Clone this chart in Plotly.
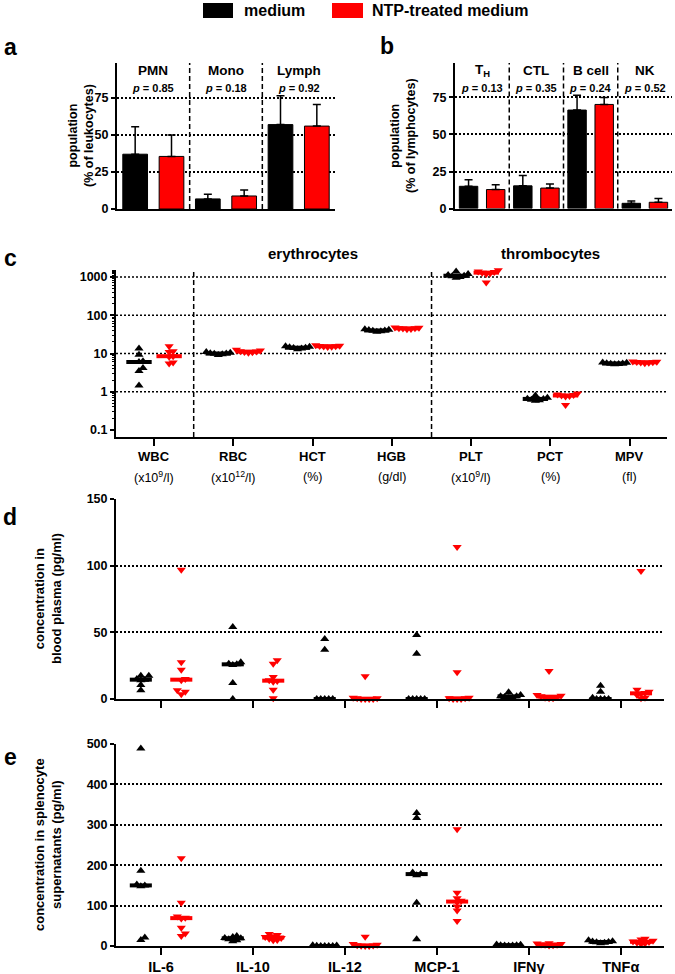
import numpy as np
import plotly.graph_objects as go

W, H = 675, 974
FONT = "Liberation Sans, Arial, Helvetica, sans-serif"
RED = "#ff0000"

# ---------------- data ----------------
groups_a = ["PMN", "Mono", "Lymph"]
p_a = ["0.85", "0.18", "0.92"]
medium_a_mean = [37.0, 6.8, 57.0]
medium_a_sd = [18.5, 3.2, 19.5]
ntp_a_mean = [35.5, 8.8, 56.0]
ntp_a_sd = [14.5, 4.0, 14.5]

groups_b = ["T<sub>H</sub>", "CTL", "B cell", "NK"]
p_b = ["0.13", "0.35", "0.24", "0.52"]
medium_b_mean = [15.0, 15.3, 66.5, 3.5]
medium_b_sd = [4.5, 7.0, 10.0, 1.6]
ntp_b_mean = [12.8, 13.8, 70.3, 4.2]
ntp_b_sd = [3.2, 2.8, 4.7, 2.6]

cats_c = ["WBC", "RBC", "HCT", "HGB", "PLT", "PCT", "MPV"]
units_c = ["(x10<sup>9</sup>/l)", "(x10<sup>12</sup>/l)", "(%)", "(g/dl)",
           "(x10<sup>9</sup>/l)", "(%)", "(fl)"]
medium_c = [
    [9.3, 13.5, 4.2, 3.5, 1.45, 6.3, 6.0],
    [9.5, 10.0, 10.2, 10.5, 9.8, 11.0, 9.2],
    [13.5, 14.0, 14.5, 15.0, 13.0, 14.2, 15.5],
    [38.0, 40.0, 41.0, 43.0, 37.0, 39.5, 42.0],
    [1000, 1080, 1130, 1200, 1400, 1050, 950],
    [0.60, 0.62, 0.65, 0.70, 0.80, 0.58, 0.66],
    [5.3, 5.5, 5.6, 5.8, 5.4, 5.7, 5.2],
]
ntp_c = [
    [15.5, 11.5, 11.0, 8.5, 8.2, 5.8, 5.5],
    [11.0, 12.0, 11.5, 10.8, 11.2, 10.5, 12.5],
    [15.0, 15.5, 16.0, 15.8, 15.2, 16.5, 14.8],
    [44.0, 45.0, 46.0, 47.0, 43.0, 45.5, 48.0],
    [1500, 1400, 1300, 1250, 1200, 1350, 720],
    [0.85, 0.90, 0.80, 0.78, 0.75, 0.82, 0.45],
    [5.7, 5.9, 6.0, 6.2, 5.6, 5.8, 6.1],
]
groups_c_titles = ["erythrocytes", "thrombocytes"]

cytokines = ["IL-6", "IL-10", "IL-12", "MCP-1", "IFNγ", "TNFα"]
medium_d = [
    [17.5, 17.5, 14.0, 14.5, 10.5, 6.5, 15.0],
    [54.0, 27.5, 26.5, 26.0, 25.5, 12.0, 0.0],
    [45.0, 37.0, 0.0, 0.0, 0.0, 0.0, 0.0],
    [48.0, 34.0, 0.0, 0.0, 0.0, 0.0, 0.0],
    [5.0, 3.0, 2.0, 2.0, 1.5, 1.0, 0.5],
    [10.0, 5.5, 1.0, 0.0, 0.0, 0.0, 0.0],
]
ntp_d = [
    [97.0, 27.5, 22.0, 15.0, 14.0, 6.5, 3.5, 5.5],
    [29.0, 26.5, 16.5, 14.0, 13.5, 13.0, 7.0, 0.5],
    [17.0, 1.0, 0.5, 0.5, 0.0, 0.0, 0.0, 0.0],
    [114.0, 20.0, 1.0, 0.5, 0.5, 0.0, 0.0, 0.0],
    [21.0, 3.0, 2.5, 2.0, 1.5, 1.0, 0.5, 0.5],
    [96.0, 7.0, 5.5, 4.5, 4.0, 3.0, 1.0, 0.5],
]
medium_e = [
    [489, 186, 152, 150, 148, 21, 15],
    [25, 22, 20, 19, 17, 14, 12],
    [2, 1, 0.5, 0, 0, 0, 0],
    [329, 317, 182, 178, 175, 107, 17],
    [4, 3, 2, 2, 1, 1, 0.5],
    [14, 12, 11, 10, 9, 8, 7],
]
ntp_e = [
    [217, 107, 73, 70, 68, 45, 31, 25],
    [30, 27, 24, 22, 20, 18, 15, 14],
    [23, 5, 3, 2, 1, 0.5, 0, 0],
    [289, 132, 118, 112, 108, 98, 88, 62],
    [7, 6, 5, 4, 3, 3, 2, 1],
    [18, 16, 13, 11, 10, 8, 6, 5],
]


def fx(px):
    return px / W


def fy(py):
    return 1 - py / H


fig = go.Figure()

# ---------------- bar panels ----------------
def bar_panel(means_m, sd_m, means_n, sd_n, xa, ya):
    n = len(means_m)
    for means, sds, color, sign in [(means_m, sd_m, "black", -1), (means_n, sd_n, RED, 1)]:
        fig.add_trace(go.Bar(
            x=[i + sign * 0.25 for i in range(n)], y=means, width=0.34,
            marker=dict(color=color, line=dict(color="black", width=1)),
            error_y=dict(type="data", array=sds, arrayminus=[0] * n, symmetric=False,
                         color="black", thickness=1.5, width=4),
            xaxis=xa, yaxis=ya, showlegend=False, hoverinfo="skip"))


bar_panel(medium_a_mean, medium_a_sd, ntp_a_mean, ntp_a_sd, "x", "y")
bar_panel(medium_b_mean, medium_b_sd, ntp_b_mean, ntp_b_sd, "x2", "y2")


# ---------------- dot panels ----------------
def swarm(vals, to_px, cat_px, step=4.0):
    order = np.argsort(vals, kind="stable")
    placed = []
    offs = np.zeros(len(vals))
    for i in order:
        y = to_px(vals[i])
        chosen, best_k, best_d = None, 0, -1.0
        for k in [0, 1, -1, 2, -2, 3, -3]:
            x = k * step
            d = min([np.hypot(x - px, y - py) for px, py in placed], default=1e9)
            if d >= step:
                chosen = k
                break
            if d > best_d:
                best_d, best_k = d, k
        if chosen is None:
            chosen = best_k
        placed.append((chosen * step, y))
        offs[i] = chosen * step / cat_px
    return offs


def dot_panel(med_lists, ntp_lists, xa, ya, to_px, cat_px, center, hw):
    for lists, color, symbol, sign in [(med_lists, "black", "triangle-up", -1),
                                       (ntp_lists, RED, "triangle-down", 1)]:
        xs, ys, lx, ly = [], [], [], []
        for i, vals in enumerate(lists):
            offs = swarm(vals, to_px, cat_px)
            c = i + sign * center
            xs += list(c + offs)
            ys += list(vals)
            m = float(np.median(vals))
            lx += [c - hw, c + hw, None]
            ly += [m, m, None]
        fig.add_trace(go.Scatter(x=xs, y=ys, mode="markers", xaxis=xa, yaxis=ya,
                                 marker=dict(symbol=symbol, size=8, color=color, line=dict(width=0)),
                                 cliponaxis=False, showlegend=False, hoverinfo="skip"))
        fig.add_trace(go.Scatter(x=lx, y=ly, mode="lines", xaxis=xa, yaxis=ya,
                                 line=dict(color=color, width=4), cliponaxis=False,
                                 showlegend=False, hoverinfo="skip"))


dot_panel(medium_c, ntp_c, "x3", "y3", lambda v: 38.25 * np.log10(v), 79.3, 0.19, 0.16)
dot_panel(medium_d, ntp_d, "x4", "y4", lambda v: v * 1.333, 92.0, 0.22, 0.12)
dot_panel(medium_e, ntp_e, "x5", "y5", lambda v: v * 0.404, 92.0, 0.22, 0.12)

# ---------------- axes ----------------
tickfont = dict(family=FONT, size=12.5, color="black", weight="bold")
DOT = "2px,2px"


def xax(d0, d1, rng, anchor, ticks=False, tickvals=None, ticktext=None):
    return dict(domain=[fx(d0), fx(d1)], range=rng, anchor=anchor, showline=True,
                linecolor="black", linewidth=2, showgrid=False, zeroline=False,
                ticks="outside" if ticks else "", ticklen=7, tickwidth=2, tickcolor="black",
                tickvals=tickvals, ticktext=ticktext, automargin=False,
                showticklabels=ticktext is not None, tickfont=tickfont, fixedrange=True)


def yax(p_bottom, p_top, rng, anchor, tickvals, grid=True, **kw):
    d = dict(domain=[fy(p_bottom), fy(p_top)], range=rng, anchor=anchor, showline=True,
             linecolor="black", linewidth=2, zeroline=False, ticks="outside", ticklen=4,
             tickwidth=2, tickcolor="black", tickvals=tickvals, tickfont=tickfont,
             automargin=False,
             showgrid=grid, gridcolor="black", gridwidth=1.5, griddash=DOT, fixedrange=True)
    d.update(kw)
    return d


minor_c = [k * 10.0 ** e for e in range(-1, 3) for k in range(2, 10)] + [1100, 1200, 1300, 1400, 1500]

fig.update_layout(
    width=W, height=H, margin=dict(l=0, r=0, t=0, b=0, autoexpand=False),
    paper_bgcolor="white", plot_bgcolor="white", barmode="overlay",
    font=dict(family=FONT, color="black"),
    xaxis=xax(117, 335, [-0.5, 2.5], "y"),
    yaxis=yax(209, 63, [0, 98.6], "x", [0, 25, 50, 75]),
    xaxis2=xax(455, 672, [-0.5, 3.5], "y2"),
    yaxis2=yax(208.5, 63, [0, 98.3], "x2", [0, 25, 50, 75]),
    xaxis3=xax(116, 667, [-0.48, 6.47], "y3", ticks=True, tickvals=list(range(7))),
    yaxis3=yax(437, 270, [-1.183, 3.183], "x3", [0.1, 1, 10, 100, 1000], grid=False,
               type="log", ticktext=["0.1", "1", "10", "100", "1000"],
               minor=dict(tickvals=minor_c, ticks="outside", ticklen=2.5, tickwidth=1,
                          tickcolor="black", showgrid=False)),
    xaxis4=xax(116, 664, [-0.49, 5.47], "y4", ticks=True, tickvals=list(range(6))),
    yaxis4=yax(699, 499, [0, 150], "x4", [0, 50, 100, 150]),
    xaxis5=xax(116, 664, [-0.49, 5.47], "y5", ticks=True, tickvals=list(range(6)),
               ticktext=cytokines),
    yaxis5=yax(946, 744, [0, 500], "x5", [0, 100, 200, 300, 400, 500]),
)
fig.layout.xaxis5.tickfont = dict(family=FONT, size=14.5, color="black", weight="bold")
fig.layout.xaxis5.ticklabelstandoff = 0

# ---------------- shapes ----------------
shapes = []
# legend swatches
shapes.append(dict(type="rect", xref="paper", yref="paper", x0=fx(203), x1=fx(233),
                   y0=fy(18), y1=fy(3), fillcolor="black", line=dict(width=0)))
shapes.append(dict(type="rect", xref="paper", yref="paper", x0=fx(332), x1=fx(363),
                   y0=fy(18), y1=fy(3), fillcolor=RED, line=dict(width=0)))
DASH = "5px,3px"
for xa, xs in [("x", [0.5, 1.5]), ("x2", [0.5, 1.5, 2.5]), ("x3", [0.5, 3.5])]:
    ya = xa.replace("x", "y")
    for xv in xs:
        shapes.append(dict(type="line", xref=xa, yref=ya + " domain", x0=xv, x1=xv, y0=0, y1=1,
                           line=dict(color="black", width=1.5, dash=DASH), layer="above"))
# panel c gridlines (no gridline at 0.1)
for v in [1, 10, 100, 1000]:
    shapes.append(dict(type="line", xref="x3 domain", yref="y3", x0=0, x1=1, y0=v, y1=v,
                       line=dict(color="black", width=1.5, dash=DOT), layer="below"))
fig.update_layout(shapes=shapes)

# ---------------- annotations ----------------
ann = []


def text(x, y, s, size, xref="paper", yref="paper", xanchor="center", angle=0, bold=True):
    ann.append(dict(x=x, y=y, xref=xref, yref=yref, text=s, showarrow=False,
                    xanchor=xanchor, yanchor="middle", textangle=angle,
                    font=dict(family=FONT, size=size, color="black",
                              weight="bold" if bold else "normal")))


text(fx(242), fy(11), "medium", 16, xanchor="left")
text(fx(370), fy(11), "NTP-treated medium", 16, xanchor="left")
for letter, px, py in [("a", 10, 47), ("b", 387, 46), ("c", 10, 258), ("d", 10, 517), ("e", 10, 757)]:
    text(fx(px), fy(py), letter, 23)

for i, (g, p) in enumerate(zip(groups_a, p_a)):
    text(i, fy(70), g, 13.5, xref="x")
    text(i, fy(88), "<i>p</i> = " + p, 11, xref="x")
for i, (g, p) in enumerate(zip(groups_b, p_b)):
    text(i, fy(70), g, 13.5, xref="x2")
    text(i, fy(88), "<i>p</i> = " + p, 11, xref="x2")

text(2, fy(253), groups_c_titles[0], 15, xref="x3")
text(5, fy(253), groups_c_titles[1], 15, xref="x3")
for i, (c, u) in enumerate(zip(cats_c, units_c)):
    text(i, fy(457), c, 13, xref="x3")
    text(i, fy(477), u, 12.5, xref="x3", bold=False)

text(fx(81), fy(136), "population<br>(% of leukocytes)", 12.5, angle=-90)
text(fx(403), fy(136), "population<br>(% of lymphocytes)", 12.5, angle=-90)
text(fx(48), fy(599), "concentration in<br>blood plasma (pg/ml)", 13, angle=-90)
text(fx(48), fy(845), "concentration in splenocyte<br>supernatants (pg/ml)", 13, angle=-90)

fig.update_layout(annotations=ann)
fig.write_html("out.html", config={"displayModeBar": False},
               post_script="document.body.style.margin='0px';")
